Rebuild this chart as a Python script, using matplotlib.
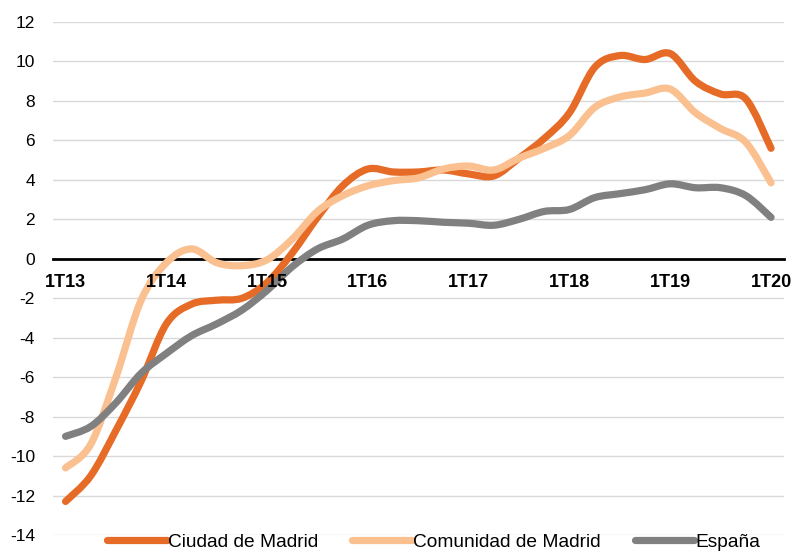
import matplotlib.pyplot as plt
import numpy as np
from matplotlib.path import Path
from matplotlib.patches import PathPatch
from matplotlib.lines import Line2D

plt.rcParams["font.family"] = ["Liberation Sans", "DejaVu Sans"]
plt.rcParams["axes.unicode_minus"] = False

# Quarterly year-on-year change, 1T13 .. 1T20
quarters = [f"{q}T{y}" for y in range(13, 21) for q in range(1, 5)][:29]
tick_labels = ["1T13", "1T14", "1T15", "1T16", "1T17", "1T18", "1T19", "1T20"]

ciudad = [-12.3, -11.0, -8.7, -6.2, -3.3, -2.3, -2.1, -2.0, -1.2, 0.3,
          2.1, 3.7, 4.55, 4.4, 4.4, 4.5, 4.3, 4.2, 5.1, 6.1,
          7.4, 9.7, 10.3, 10.1, 10.4, 9.0, 8.35, 8.1, 5.6]
comunidad = [-10.6, -9.4, -6.0, -2.1, -0.2, 0.5, -0.2, -0.35, -0.05, 1.0,
             2.4, 3.2, 3.7, 3.96, 4.1, 4.55, 4.7, 4.5, 5.1, 5.6,
             6.25, 7.67, 8.2, 8.4, 8.6, 7.4, 6.6, 5.9, 3.85]
espana = [-9.0, -8.5, -7.3, -5.8, -4.8, -3.9, -3.3, -2.6, -1.6, -0.4,
          0.5, 1.0, 1.7, 1.93, 1.93, 1.85, 1.8, 1.7, 2.0, 2.4,
          2.5, 3.1, 3.3, 3.5, 3.8, 3.6, 3.6, 3.2, 2.1]

series = [
    ("Ciudad de Madrid", ciudad, "#E56B26"),
    ("Comunidad de Madrid", comunidad, "#FAC090"),
    ("España", espana, "#808080"),
]


def smooth_path(x, y):
    # Catmull-Rom style cubic Bezier through every point
    p = np.column_stack([x, y]).astype(float)
    n = len(p)
    verts = [p[0]]
    codes = [Path.MOVETO]
    for i in range(n - 1):
        p0 = p[i - 1] if i > 0 else p[i]
        p3 = p[i + 2] if i + 2 < n else p[i + 1]
        c1 = p[i] + (p[i + 1] - p0) / 6.0
        c2 = p[i + 1] - (p3 - p[i]) / 6.0
        verts += [c1, c2, p[i + 1]]
        codes += [Path.CURVE4] * 3
    return Path(verts, codes)


fig = plt.figure(figsize=(7.93, 5.56), dpi=100)
ax = fig.add_axes([0.0668, 0.0378, 0.9214, 0.9226])

# zero line doubles as the category axis (set before tick labels)
for side in ["left", "right", "top"]:
    ax.spines[side].set_visible(False)
ax.spines["bottom"].set_position(("data", 0))
ax.spines["bottom"].set_linewidth(2)
ax.spines["bottom"].set_zorder(2.5)

x = np.arange(len(quarters))
handles = []
for name, vals, color in series:
    patch = PathPatch(smooth_path(x, vals), fill=False, edgecolor=color,
                      lw=5.2, capstyle="round", joinstyle="round", zorder=3)
    ax.add_patch(patch)
    handles.append(Line2D([], [], color=color, lw=5.2, solid_capstyle="round"))

ax.set_xlim(-0.5, len(quarters) - 0.5)
ax.set_ylim(-14, 12)
ax.set_yticks(np.arange(-14, 13, 2))
ax.set_xticks(x[::4])
ax.set_xticklabels(tick_labels, fontweight="bold", fontsize=13)
ax.tick_params(axis="x", length=0, pad=11)
ax.tick_params(axis="y", length=0, pad=13, labelsize=12.5)
ax.yaxis.grid(True, color="#D9D9D9", lw=1)
ax.set_axisbelow(True)
# quarter labels sit on top of the curves
ax.xaxis.set_zorder(5)

fig.legend(handles, [s[0] for s in series], loc="lower center",
           bbox_to_anchor=(0.547, -0.012), ncol=3, frameon=False,
           fontsize=13.8, handlelength=3.1, handletextpad=0.05,
           columnspacing=1.8, borderpad=0.1)

fig.savefig("out.png", dpi=100)
